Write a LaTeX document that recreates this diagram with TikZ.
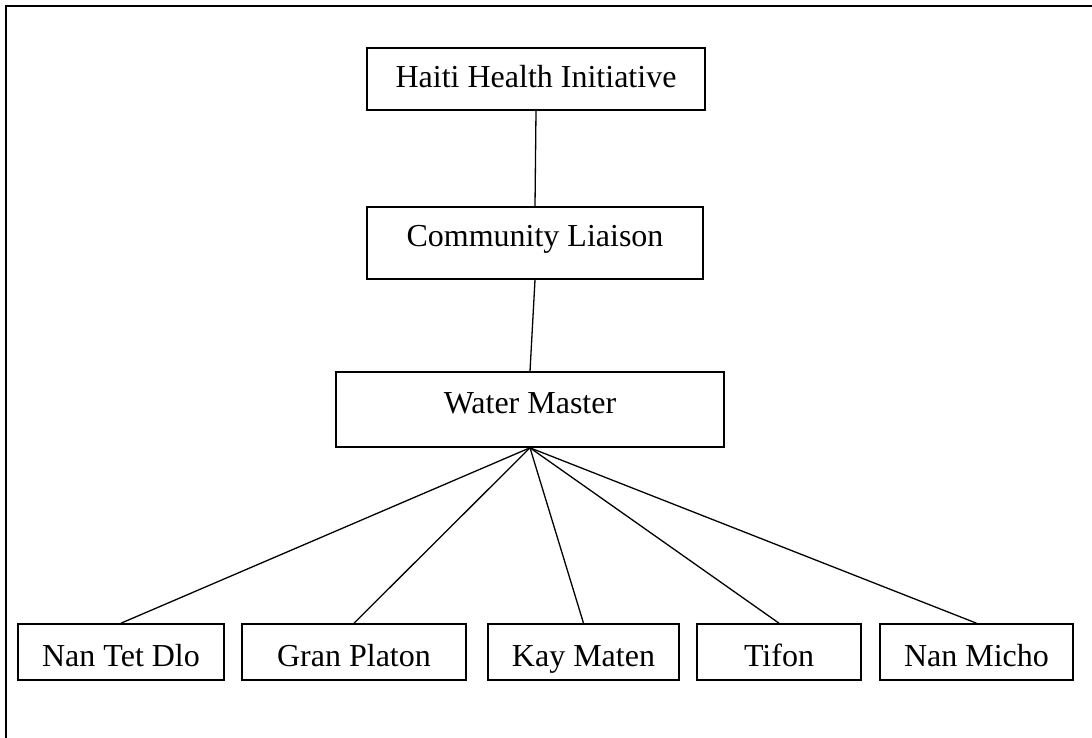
\documentclass[tikz,border=0pt]{standalone}
\usepackage{fontspec}
\setmainfont{Liberation Serif}
\begin{document}
\begin{tikzpicture}[x=1pt,y=-1pt,
  box/.style={draw, line width=1.6pt, inner sep=0pt, font=\fontsize{32}{36}\selectfont, text height=22pt, text depth=4pt},
  bottombox/.style={box, minimum height=56pt, text height=30pt, text depth=1pt},
  link/.style={line width=1.3pt}]
\useasboundingbox (0,0) rectangle (1092,738);
\draw[line width=2pt] (6,738) -- (6,6) -- (1092,6);
\node[box, minimum width=338pt, minimum height=62pt] (hhi) at (536,79) {Haiti Health Initiative};
\node[box, minimum width=336pt, minimum height=72pt, text depth=14pt] (cl) at (535,243) {Community Liaison};
\node[box, minimum width=388pt, minimum height=75pt, text depth=15pt] (wm) at (530,409.5) {Water Master};
\node[bottombox, minimum width=206pt] (ntd) at (121,652) {Nan Tet Dlo};
\node[bottombox, minimum width=224pt] (gp) at (354,652) {Gran Platon};
\node[bottombox, minimum width=191pt] (km) at (583.5,652) {Kay Maten};
\node[bottombox, minimum width=164pt] (tf) at (779,652) {Tifon};
\node[bottombox, minimum width=193pt] (nm) at (976.5,652) {Nan Micho};
\draw[link] (hhi.south) -- (cl.north);
\draw[link] (cl.south) -- (wm.north);
\foreach \b in {ntd,gp,km,tf,nm}{\draw[link] (wm.south) -- (\b.north);}
\end{tikzpicture}
\end{document}
